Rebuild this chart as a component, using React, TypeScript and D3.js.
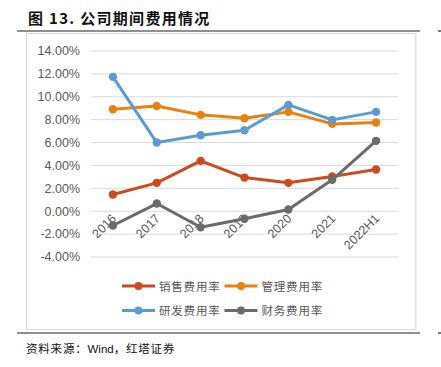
import React from "react";
import * as d3 from "d3";

const categories = ["2016", "2017", "2018", "2019", "2020", "2021", "2022H1"];
const salesRate = [1.46, 2.48, 4.4, 2.94, 2.48, 3.03, 3.64];
const adminRate = [8.91, 9.2, 8.42, 8.12, 8.68, 7.63, 7.75];
const rdRate = [11.74, 6.0, 6.64, 7.07, 9.29, 7.98, 8.68];
const finRate = [-1.25, 0.67, -1.4, -0.66, 0.15, 2.74, 6.15];
const yTicks = [-4, -2, 0, 2, 4, 6, 8, 10, 12, 14];

const seriesNames = ["销售费用率", "管理费用率", "研发费用率", "财务费用率"];
const seriesColors = ["#CD4A1F", "#E8820E", "#5B9BD5", "#6B6B6B"];
const seriesData = [salesRate, adminRate, rdRate, finRate];

export default function App() {
  const x = d3.scaleBand<string>().domain(categories).range([91, 398]).padding(0);
  const cx = (c: string) => (x(c) as number) + x.bandwidth() / 2;
  const y = d3.scaleLinear().domain([-4, 14]).range([257, 51]);
  const line = d3
    .line<number>()
    .x((_, i) => cx(categories[i]))
    .y((d) => y(d));

  const cjk = "'Noto Sans CJK SC', 'Liberation Sans', sans-serif";
  const latin = "'Liberation Sans', Arial, sans-serif";

  const legendPos = [
    { lx: 122, ly: 286 },
    { lx: 224.5, ly: 286 },
    { lx: 122, ly: 310.5 },
    { lx: 224.5, ly: 310.5 },
  ];

  return (
    <svg
      width={441}
      height={367}
      style={{ position: "absolute", left: 0, top: 0, background: "#fff" }}
    >
      <text
        x={28}
        y={24}
        fontFamily={cjk}
        fontWeight="bold"
        fontSize={15}
        letterSpacing={1.3}
        fill="#111"
      >
        图 13. 公司期间费用情况
      </text>
      <line x1={17} x2={420} y1={31} y2={31} stroke="#222" strokeWidth={1.2} />
      <line x1={438} x2={441} y1={31} y2={31} stroke="#222" strokeWidth={1.2} />

      <rect x={26.5} y={33.5} width={389} height={296} fill="none" stroke="#dcdcdc" strokeWidth={1.2} />
      <line x1={415.5} x2={415.5} y1={33} y2={330} stroke="#e6e6e6" strokeWidth={2} />

      {yTicks.map((t) => (
        <g key={t}>
          <line x1={91} x2={398} y1={y(t)} y2={y(t)} stroke="#d9d9d9" strokeWidth={1} />
          <text
            x={80}
            y={y(t) + 4.3}
            textAnchor="end"
            fontFamily={latin}
            fontSize={12.5}
            fill="#595959"
          >
            {t.toFixed(2) + "%"}
          </text>
        </g>
      ))}

      {categories.map((c) => (
        <text
          key={c}
          transform={`translate(${cx(c) + 4},${y(0) + 8}) rotate(-45)`}
          textAnchor="end"
          fontFamily={latin}
          fontSize={12.5}
          fill="#595959"
        >
          {c}
        </text>
      ))}

      {seriesData.map((s, k) => (
        <g key={k}>
          <path d={line(s) || ""} fill="none" stroke={seriesColors[k]} strokeWidth={3} strokeLinejoin="round" />
          {s.map((v, i) => (
            <circle key={i} cx={cx(categories[i])} cy={y(v)} r={4.2} fill={seriesColors[k]} />
          ))}
        </g>
      ))}

      {seriesNames.map((n, k) => (
        <g key={n}>
          <line
            x1={legendPos[k].lx}
            x2={legendPos[k].lx + 33}
            y1={legendPos[k].ly}
            y2={legendPos[k].ly}
            stroke={seriesColors[k]}
            strokeWidth={3}
          />
          <circle cx={legendPos[k].lx + 16.5} cy={legendPos[k].ly} r={4} fill={seriesColors[k]} />
          <text
            x={legendPos[k].lx + 37}
            y={legendPos[k].ly + 4.5}
            fontFamily={cjk}
            fontSize={11.5}
            letterSpacing={0.8}
            fill="#595959"
          >
            {n}
          </text>
        </g>
      ))}

      <line x1={17} x2={420} y1={333} y2={333} stroke="#222" strokeWidth={1.2} />
      <line x1={438} x2={441} y1={333} y2={333} stroke="#222" strokeWidth={1.2} />
      <text x={26} y={353} fontFamily={cjk} fontSize={11.5} letterSpacing={0.8} fill="#111">
        资料来源：
        <tspan fontFamily={latin} letterSpacing={0}>Wind</tspan>
        ，红塔证券
      </text>
    </svg>
  );
}
